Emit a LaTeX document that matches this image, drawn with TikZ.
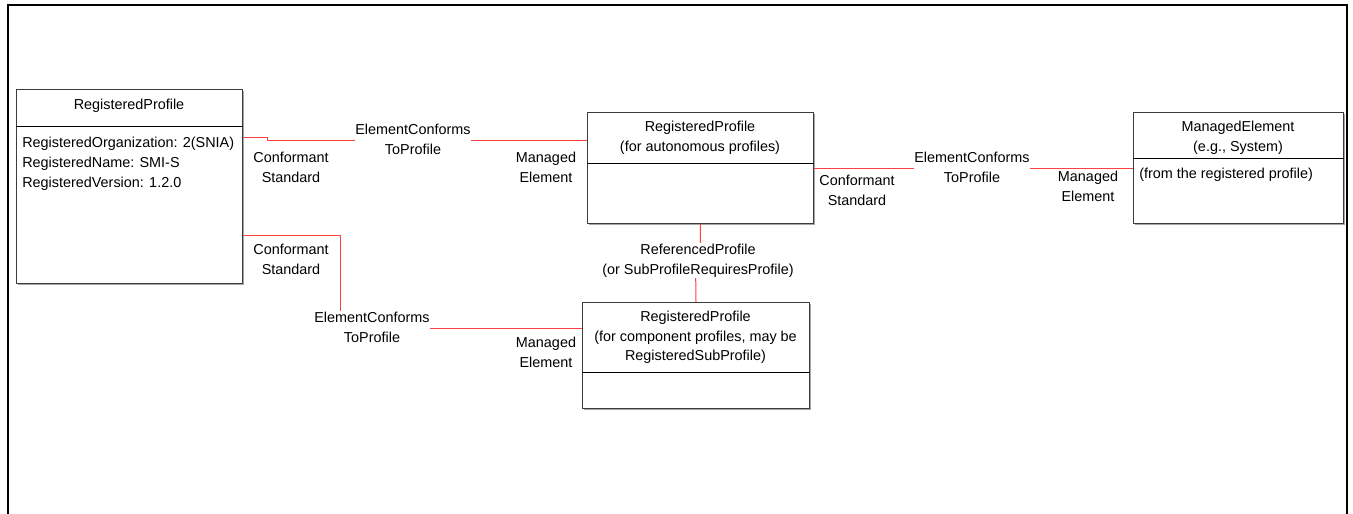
\documentclass[tikz,border=0pt]{standalone}
\usepackage{fontspec}
\setmainfont{Liberation Sans}
\usetikzlibrary{shadows}
\definecolor{assocred}{RGB}{255,64,64}
\definecolor{boxgray}{RGB}{60,60,60}
\begin{document}
\begin{tikzpicture}[x=0.75pt,y=-0.75pt,
  font=\fontsize{10.8pt}{14.8pt}\selectfont,
  umlbox/.style={draw=boxgray, line width=0.75pt, fill=white, inner sep=0pt,
    anchor=north west,
    drop shadow={shadow xshift=0.75pt, shadow yshift=-0.75pt, fill=black!35, opacity=1}},
  divider/.style={draw=black, line width=0.75pt},
  assoc/.style={draw=assocred, line width=0.75pt},
  assoclabel/.style={fill=white, inner xsep=0pt, inner ysep=1pt, align=center},
  role/.style={align=center, inner sep=0pt},
  title/.style={align=center, inner sep=0pt},
  attrs/.style={align=left, inner sep=0pt, anchor=north west}
]
\clip (0,0) rectangle (1353,514);

% page frame, open at the bottom
\draw[line width=1.5pt] (8,520) -- (8,5) -- (1347,5) -- (1347,520);

% class boxes
\node[umlbox, minimum width=226*0.75pt, minimum height=194*0.75pt] (rp1) at (16,89) {};
\node[umlbox, minimum width=226*0.75pt, minimum height=111*0.75pt] (rp2) at (587,112) {};
\node[umlbox, minimum width=227*0.75pt, minimum height=106*0.75pt] (rp3) at (582,302) {};
\node[umlbox, minimum width=210*0.75pt, minimum height=111*0.75pt] (me) at (1133,112) {};

% compartment dividers
\draw[divider] (rp1.west |- 0,126) -- (rp1.east |- 0,126);
\draw[divider] (rp2.west |- 0,163) -- (rp2.east |- 0,163);
\draw[divider] (rp3.west |- 0,372) -- (rp3.east |- 0,372);
\draw[divider] (me.west |- 0,158) -- (me.east |- 0,158);

% box contents
\node[title] (rp1title) at (129,106) {RegisteredProfile};
\node[attrs] (rp1attrs) at (22,137) {RegisteredOrganization: 2(SNIA)\\RegisteredName: SMI-S\\RegisteredVersion: 1.2.0};
\node[title] (rp2title) at (700,137.5) {RegisteredProfile\\(for autonomous profiles)};
\node[title] (rp3title) at (695.5,337.5) {RegisteredProfile\\(for component profiles, may be\\RegisteredSubProfile)};
\node[title] (metitle) at (1238,138) {ManagedElement\\(e.g., System)};
\node[attrs] (meattrs) at (1139,168) {(from the registered profile)};

% associations
\draw[assoc] (rp1.east |- 0,137.5) -- (267,137.5) -- (267,140) -- (rp2.west |- 0,140);
\node[assoclabel] (ect1) at (413,139.5) {ElementConforms\\ToProfile};

\draw[assoc] (rp1.east |- 0,235) -| (340,328) -- (rp3.west |- 0,328);
\node[assoclabel] (ect2) at (372,327.5) {ElementConforms\\ToProfile};

\draw[assoc] (rp2.south) -- (700,262) -- (695.5,262) -- (rp3.north);
\node[assoclabel] (refp) at (698,260.5) {ReferencedProfile\\(or SubProfileRequiresProfile)};

\draw[assoc] (rp2.east |- 0,168) -- (me.west |- 0,168);
\node[assoclabel] (ect3) at (972,167) {ElementConforms\\ToProfile};

% association end roles
\node[role] (cs1) at (291,167.5) {Conformant\\Standard};
\node[role] (me1) at (546,167.5) {Managed\\Element};
\node[role] (cs2) at (291,259.5) {Conformant\\Standard};
\node[role] (me2) at (546,352.5) {Managed\\Element};
\node[role] (cs3) at (857,190.5) {Conformant\\Standard};
\node[role] (me3) at (1088,186) {Managed\\Element};
\end{tikzpicture}
\end{document}
